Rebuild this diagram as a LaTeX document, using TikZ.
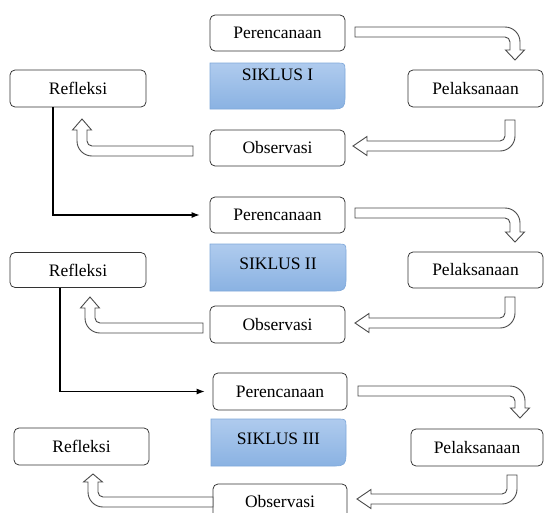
\documentclass[tikz,border=0pt]{standalone}
\usepackage{fontspec}
\setmainfont{Liberation Serif}
\usetikzlibrary{arrows.meta}
\definecolor{boxline}{HTML}{333333}
\definecolor{arrline}{HTML}{4A4A4A}
\definecolor{sktop}{HTML}{AFCBEE}
\definecolor{skbot}{HTML}{8AB2E2}
\definecolor{skline}{HTML}{7FA8DA}
\def\aw{10}\def\ae{4.5}\def\aR{15}\def\ar{5}
% right then down
\newcommand\ArrRD[5]{%
 \draw[barrow] (#1,#2) -- (#3+\aw-\aR,#2) .. controls (#3+\aw-0.45*\aR,#2) and (#3+\aw,#2+0.45*\aR) .. (#3+\aw,#2+\aR)
  -- (#3+\aw,#4) -- (#3+\aw+\ae,#4) -- (#3+\aw/2,#5) -- (#3-\ae,#4) -- (#3,#4)
  -- (#3,#2+\aw+\ar) .. controls (#3,#2+\aw+0.45*\ar) and (#3-0.45*\ar,#2+\aw) .. (#3-\ar,#2+\aw) -- (#1,#2+\aw) -- cycle;}
% down then left
\newcommand\ArrDL[5]{%
 \draw[barrow] (#1,#2) -- (#1+\aw,#2) -- (#1+\aw,#3+\aw-\aR) .. controls (#1+\aw,#3+\aw-0.45*\aR) and (#1+\aw-0.45*\aR,#3+\aw) .. (#1+\aw-\aR,#3+\aw)
  -- (#4,#3+\aw) -- (#4,#3+\aw+\ae) -- (#5,#3+\aw/2) -- (#4,#3-\ae) -- (#4,#3)
  -- (#1-\ar,#3) .. controls (#1-0.45*\ar,#3) and (#1,#3-0.45*\ar) .. (#1,#3-\ar) -- cycle;}
% left then up
\newcommand\ArrLU[5]{%
 \draw[barrow] (#1,#2) -- (#3+\aw+\ar,#2) .. controls (#3+\aw+0.45*\ar,#2) and (#3+\aw,#2-0.45*\ar) .. (#3+\aw,#2-\ar)
  -- (#3+\aw,#4) -- (#3+\aw+\ae,#4) -- (#3+\aw/2,#5) -- (#3-\ae,#4) -- (#3,#4)
  -- (#3,#2+\aw-\aR) .. controls (#3,#2+\aw-0.45*\aR) and (#3+0.45*\aR,#2+\aw) .. (#3+\aR,#2+\aw) -- (#1,#2+\aw) -- cycle;}
% siklus box: x1 y1 x2 y2
\newcommand\Siklus[4]{%
 \path[draw=skline,line width=0.6pt,top color=sktop,bottom color=skbot]
  (#1,#2) -- (#3-6,#2) .. controls (#3-1,#2) and (#3,#2+1) .. (#3,#2+6) -- (#3,#4-11) .. controls (#3,#4-2) and (#3-2,#4) .. (#3-11,#4) -- (#1,#4) -- cycle;}
\begin{document}
\begin{tikzpicture}[x=1pt,y=-1pt,
  box/.style={draw=boxline,line width=0.75pt,rounded corners=5pt,fill=white,
    minimum width=135pt,minimum height=36pt,inner sep=0pt,
    font=\fontsize{17.5}{20}\selectfont,text=black},
  sktext/.style={inner sep=0pt,font=\fontsize{17.5}{20}\selectfont,text=black},
  barrow/.style={draw=arrline,line width=0.9pt,fill=white,line join=miter},
  conn/.style={draw=black,line width=1.1pt,-{Latex[length=8pt,width=6pt]}}]
\clip (0,0) rectangle (544,512);
\fill[white] (0,0) rectangle (544,512);
% ---------- cycle 1
\node[box] (per1) at (277.5,33) {Perencanaan};
\Siklus{210}{63}{345}{109}
\node[sktext] (s1) at (277.5,75) {SIKLUS I};
\node[box,minimum height=37pt] (pel1) at (475.5,88.5) {Pelaksanaan};
\node[box] (obs1) at (277.5,148) {Observasi};
\node[box,minimum width=136pt,minimum height=37pt] (ref1) at (78,88.5) {Refleksi};
\ArrRD{355}{27}{510}{50}{60}
\ArrDL{505}{120}{141}{367}{353}
\ArrLU{193}{146}{77}{130}{119}
% ---------- cycle 2
\node[box] (per2) at (277.5,215) {Perencanaan};
\Siklus{210}{244}{346}{291}
\node[sktext] (s2) at (278,263.5) {SIKLUS II};
\node[box] (pel2) at (475.5,270) {Pelaksanaan};
\node[box,minimum height=37pt] (obs2) at (277.5,324.5) {Observasi};
\node[box,minimum width=136pt,minimum height=35pt] (ref2) at (78,270) {Refleksi};
\ArrRD{355}{208}{510}{232}{242}
\ArrDL{505}{297}{318}{369}{355}
\ArrLU{203}{323}{85}{308}{297}
\draw[conn,shorten >=10pt] ([xshift=-25pt]ref1.south) |- (per2.west);
% ---------- cycle 3
\node[box,minimum width=134pt,minimum height=37pt] (per3) at (280,391.5) {Perencanaan};
\Siklus{211}{419}{346}{466}
\node[sktext] (s3) at (278.5,439) {SIKLUS III};
\node[box,minimum width=132pt,minimum height=37pt] (pel3) at (477,447.5) {Pelaksanaan};
\node[box,minimum width=134pt] (obs3) at (280,502) {Observasi};
\node[box,minimum height=37pt] (ref3) at (81.5,446.5) {Refleksi};
\ArrRD{358}{386}{515}{408}{418}
\ArrDL{507}{475}{494}{371}{357}
\ArrLU{213}{497}{88}{482}{474}
\draw[conn,shorten >=8pt] ([xshift=-18pt]ref2.south) |- (per3.west);
\end{tikzpicture}
\end{document}
